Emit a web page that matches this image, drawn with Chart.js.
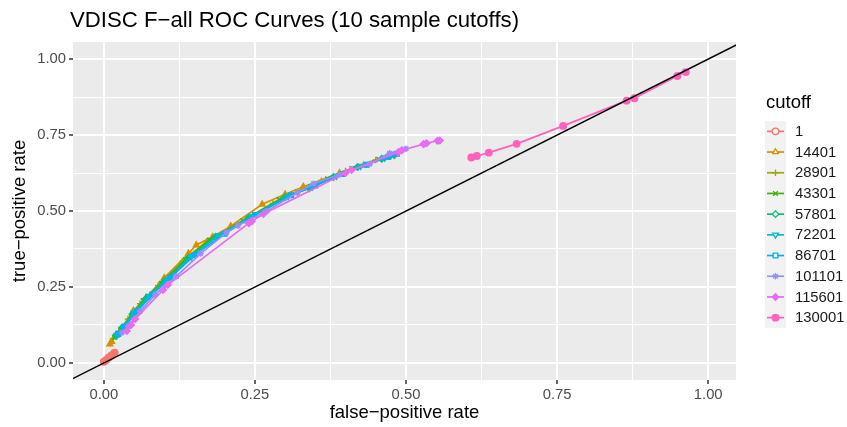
<!DOCTYPE html>
<html lang="en">
<head>
    <meta charset="UTF-8">
    <title>VDISC F-all ROC Curves</title>
    <script src="https://cdn.jsdelivr.net/npm/chart.js"></script>
    <style>
        html, body { margin: 0; padding: 0; background: #ffffff; }
        #wrap { width: 847px; height: 427px; }
    </style>
</head>
<body>
    <div id="wrap"><canvas id="rocChart" width="847" height="427"></canvas></div>

    <script>
        // cutoffs (legend order) and ggplot hue colours
        const cutoffs = ['1', '14401', '28901', '43301', '57801', '72201', '86701', '101101', '115601', '130001'];
        const colors = ['#F8766D', '#D89000', '#A3A500', '#39B600', '#00BF7D', '#00BFC4', '#00B0F6', '#9590FF', '#E76BF3', '#FF62BC'];

        // values (false-positive rate / true-positive rate)
        const fpr1 = [0.000, 0.004, 0.008, 0.012, 0.016, 0.018];
        const tpr1 = [0.004, 0.010, 0.017, 0.024, 0.030, 0.034];

        const fpr14401 = [0.010, 0.013, 0.020, 0.030, 0.049, 0.070, 0.100, 0.140, 0.153, 0.180, 0.210, 0.262, 0.300, 0.330, 0.390, 0.430, 0.470];
        const tpr14401 = [0.062, 0.070, 0.090, 0.115, 0.172, 0.215, 0.280, 0.360, 0.388, 0.415, 0.450, 0.522, 0.555, 0.580, 0.625, 0.650, 0.680];

        const fpr28901 = [0.015, 0.025, 0.040, 0.060, 0.090, 0.130, 0.170, 0.220, 0.280, 0.310, 0.360, 0.400, 0.450, 0.475];
        const tpr28901 = [0.080, 0.105, 0.145, 0.195, 0.255, 0.335, 0.400, 0.455, 0.525, 0.555, 0.600, 0.632, 0.668, 0.680];

        const fpr43301 = [0.018, 0.028, 0.045, 0.065, 0.095, 0.135, 0.175, 0.230, 0.290, 0.320, 0.370, 0.410, 0.455, 0.478];
        const tpr43301 = [0.085, 0.110, 0.155, 0.205, 0.262, 0.340, 0.405, 0.468, 0.538, 0.562, 0.606, 0.640, 0.670, 0.682];

        const fpr57801 = [0.020, 0.030, 0.048, 0.070, 0.100, 0.140, 0.185, 0.240, 0.300, 0.340, 0.380, 0.420, 0.460, 0.480];
        const tpr57801 = [0.090, 0.115, 0.160, 0.212, 0.268, 0.345, 0.415, 0.478, 0.545, 0.575, 0.612, 0.645, 0.672, 0.684];

        const fpr72201 = [0.022, 0.033, 0.050, 0.075, 0.105, 0.145, 0.190, 0.245, 0.305, 0.345, 0.385, 0.425, 0.465, 0.482];
        const tpr72201 = [0.092, 0.118, 0.165, 0.220, 0.275, 0.350, 0.420, 0.482, 0.548, 0.580, 0.615, 0.648, 0.675, 0.686];

        const fpr86701 = [0.024, 0.035, 0.055, 0.080, 0.110, 0.150, 0.200, 0.250, 0.310, 0.350, 0.395, 0.435, 0.470, 0.485];
        const tpr86701 = [0.095, 0.120, 0.170, 0.225, 0.280, 0.355, 0.425, 0.487, 0.552, 0.584, 0.622, 0.652, 0.678, 0.688];

        const fpr101101 = [0.030, 0.040, 0.060, 0.085, 0.120, 0.160, 0.203, 0.222, 0.270, 0.320, 0.347, 0.390, 0.440, 0.473, 0.493, 0.500];
        const tpr101101 = [0.100, 0.120, 0.170, 0.225, 0.285, 0.360, 0.429, 0.452, 0.500, 0.560, 0.590, 0.620, 0.655, 0.690, 0.700, 0.705];

        const fpr115601 = [0.038, 0.045, 0.052, 0.098, 0.106, 0.240, 0.245, 0.264, 0.400, 0.410, 0.487, 0.493, 0.529, 0.534, 0.552, 0.556];
        const tpr115601 = [0.105, 0.125, 0.145, 0.240, 0.257, 0.460, 0.466, 0.490, 0.625, 0.635, 0.693, 0.700, 0.720, 0.723, 0.731, 0.732];

        const fpr130001 = [0.608, 0.617, 0.637, 0.683, 0.760, 0.865, 0.878, 0.949, 0.963];
        const tpr130001 = [0.676, 0.681, 0.692, 0.721, 0.780, 0.863, 0.871, 0.944, 0.957];

        const fprSeries = [fpr1, fpr14401, fpr28901, fpr43301, fpr57801, fpr72201, fpr86701, fpr101101, fpr115601, fpr130001];
        const tprSeries = [tpr1, tpr14401, tpr28901, tpr43301, tpr57801, tpr72201, tpr86701, tpr101101, tpr115601, tpr130001];

        // chance line y = x
        const diagonal = [-0.2, 1.2];

        // axis ticks
        const majorTicks = [0, 0.25, 0.5, 0.75, 1];
        const minorTicks = [0.125, 0.375, 0.625, 0.875];

        // marker styles (ggplot shapes 1..10)
        const shapes = ['circle', 'triangle', 'cross', 'crossRot', 'rectRot', 'triangle', 'rect', 'star', 'rectRot', 'circle'];
        const rotations = [0, 0, 0, 0, 0, 180, 0, 0, 0, 0];
        const openShape = [true, true, false, false, true, true, true, false, false, false];

        const FONT = "'Liberation Sans', Arial, sans-serif";

        const datasets = cutoffs.map((c, i) => ({
            label: c,
            data: fprSeries[i].map((x, j) => ({ x: x, y: tprSeries[i][j] })),
            borderColor: colors[i],
            backgroundColor: colors[i],
            borderWidth: 1.7,
            pointStyle: shapes[i],
            pointRotation: rotations[i],
            pointRadius: 3.2,
            pointBorderWidth: 1.5,
            showLine: true,
            tension: 0,
            order: 10 - i
        }));

        datasets.push({
            label: 'diagonal',
            data: diagonal.map(v => ({ x: v, y: v })),
            borderColor: '#000000',
            borderWidth: 1.5,
            pointRadius: 0,
            showLine: true,
            order: 0
        });

        const isMajor = v => majorTicks.some(m => Math.abs(m - v) < 1e-6);
        const allTicks = majorTicks.concat(minorTicks).sort((a, b) => a - b);

        // grey panel + title + ggplot-like legend
        const ggDecor = {
            id: 'ggDecor',
            beforeDraw(chart) {
                const { ctx, chartArea } = chart;
                ctx.save();
                ctx.fillStyle = '#EBEBEB';
                ctx.fillRect(chartArea.left, chartArea.top, chartArea.right - chartArea.left, chartArea.bottom - chartArea.top);
                ctx.restore();
            },
            afterDraw(chart) {
                const ctx = chart.ctx;
                ctx.save();
                ctx.fillStyle = '#000000';
                ctx.font = '22.2px ' + FONT;
                ctx.textBaseline = 'middle';
                ctx.textAlign = 'left';
                ctx.fillText('VDISC F\u2212all ROC Curves (10 sample cutoffs)', 70, 21);

                // legend
                const keyX = 765, keyW = 21, keyTop = 121, keyH = 20.7;
                ctx.font = '18.5px ' + FONT;
                ctx.fillText('cutoff', 766, 103);
                ctx.fillStyle = '#F2F2F2';
                ctx.fillRect(keyX, keyTop, keyW, keyH * cutoffs.length);
                ctx.font = '14.8px ' + FONT;
                cutoffs.forEach((c, i) => {
                    const cy = keyTop + keyH * (i + 0.5);
                    ctx.strokeStyle = colors[i];
                    ctx.lineWidth = 1.7;
                    ctx.beginPath();
                    ctx.moveTo(keyX + 2, cy);
                    ctx.lineTo(keyX + keyW - 2, cy);
                    ctx.stroke();
                    ctx.fillStyle = openShape[i] ? '#F2F2F2' : colors[i];
                    ctx.lineWidth = 1.3;
                    Chart.helpers.drawPoint(ctx, {
                        pointStyle: shapes[i],
                        rotation: rotations[i],
                        radius: 3.3,
                        borderWidth: 1.3
                    }, keyX + keyW / 2, cy);
                    ctx.fillStyle = '#1A1A1A';
                    ctx.fillText(c, 795, cy + 0.5);
                });
                ctx.restore();
            }
        };

        const gridOpts = {
            color: '#FFFFFF',
            lineWidth: ctx => (ctx.tick && isMajor(ctx.tick.value)) ? 2 : 1,
            drawTicks: true,
            tickLength: 4,
            tickColor: ctx => (ctx.tick && isMajor(ctx.tick.value)) ? '#333333' : 'rgba(0,0,0,0)',
            tickWidth: 1.5
        };

        const tickFmt = v => isMajor(v) ? v.toFixed(2) : '';

        new Chart(document.getElementById('rocChart'), {
            type: 'scatter',
            data: { datasets: datasets },
            options: {
                responsive: false,
                animation: false,
                events: [],
                layout: { padding: { left: 0, right: 111, top: 42, bottom: 0 } },
                plugins: {
                    legend: { display: false },
                    tooltip: { enabled: false },
                    title: { display: false }
                },
                scales: {
                    x: {
                        type: 'linear',
                        min: -0.051,
                        max: 1.046,
                        border: { display: false },
                        grid: gridOpts,
                        afterBuildTicks: s => { s.ticks = allTicks.map(v => ({ value: v })); },
                        afterFit: s => { s.height = 47; },
                        ticks: {
                            autoSkip: false,
                            maxRotation: 0,
                            padding: 2,
                            color: '#4D4D4D',
                            font: { family: FONT, size: 14.8 },
                            callback: tickFmt
                        },
                        title: {
                            display: true,
                            text: 'false\u2212positive rate',
                            color: '#000000',
                            font: { family: FONT, size: 18.5 },
                            padding: { top: 0, bottom: 3 }
                        }
                    },
                    y: {
                        type: 'linear',
                        min: -0.056,
                        max: 1.056,
                        border: { display: false },
                        grid: gridOpts,
                        afterBuildTicks: s => { s.ticks = allTicks.map(v => ({ value: v })); },
                        afterFit: s => { s.width = 73; },
                        ticks: {
                            autoSkip: false,
                            padding: 3,
                            color: '#4D4D4D',
                            font: { family: FONT, size: 14.8 },
                            callback: tickFmt
                        },
                        title: {
                            display: true,
                            text: 'true\u2212positive rate',
                            color: '#000000',
                            font: { family: FONT, size: 18.5 },
                            padding: { top: 9, bottom: 0 }
                        }
                    }
                }
            },
            plugins: [ggDecor]
        });
    </script>
</body>
</html>
